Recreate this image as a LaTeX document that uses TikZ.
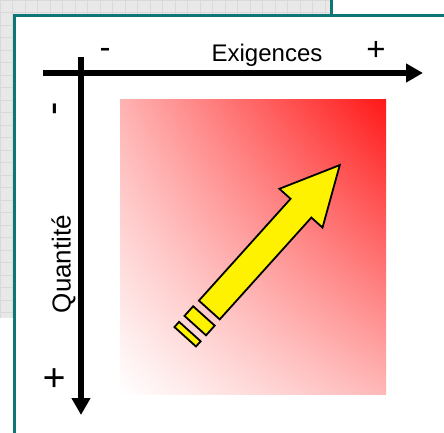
\documentclass[tikz,border=0pt]{standalone}
\usepackage{fontspec}
\setmainfont{Liberation Sans}
\usetikzlibrary{arrows.meta, shadings}
\definecolor{cadre}{RGB}{14,118,118}
\definecolor{rouge}{RGB}{255,24,24}
\definecolor{fond}{RGB}{232,232,232}

\begin{document}
\begin{tikzpicture}[x=1pt, y=1pt,
  axe/.style={line width=6pt, -{Triangle[length=17pt, width=18pt]}},
  fleche/.style={draw=black, fill=yellow, line width=1.8pt, line join=miter},
  titre/.style={inner sep=0pt, font=\fontsize{24}{24}\selectfont},
  signe/.style={inner sep=0pt, font=\fontsize{33}{33}\selectfont}]
\useasboundingbox (0,0) rectangle (444,-433);
% fond quadrille
\fill[fond] (0,0) rectangle (330,-15);
\fill[fond] (0,-15) rectangle (13,-318);
\draw[gray!30, step=12.5] (0,-15) grid (330,0);
\draw[gray!30, step=12.5] (0,-318) grid (13,-15);
% cadre
\draw[cadre, line width=3pt] (14,-433) -- (14,-16) -- (444,-16);
\draw[cadre, line width=3pt] (331.5,0) -- (331.5,-16);
% degrade
\shade[lower left=white, upper right=rouge, upper left=red!30, lower right=red!28]
  (120,-100) rectangle (386,-394);
% fleche jaune
\begin{scope}[shift={(209.3,-310)}, rotate=48]
\draw[fleche] (0,-14) -- (137,-14) -- (137,-29) -- (195,0) -- (137,29) -- (137,14) -- (0,14) -- cycle;
\draw[fleche] (-21,-14.5) rectangle (-8,14.5);
\draw[fleche] (-36,-14.5) rectangle (-29,14.5);
\end{scope}
% axes
\draw[axe] (43,-73) -- (423,-73);
\draw[axe] (81,-57) -- (81,-415);
\node[titre, anchor=base] (exig) at (267,-62) {Exigences};
\node[signe] (moinsx) at (105,-53) {-};
\node[signe] (plusx) at (376,-51) {+};
\node[titre, rotate=90, anchor=base, font=\fontsize{26}{26}\selectfont] (quant) at (70.5,-264) {Quantité};
\node[signe, rotate=90, font=\fontsize{40}{40}\selectfont] (moinsy) at (59,-109) {-};
\node[signe, rotate=90, font=\fontsize{39}{39}\selectfont] (plusy) at (56,-378) {+};
\end{tikzpicture}
\end{document}
